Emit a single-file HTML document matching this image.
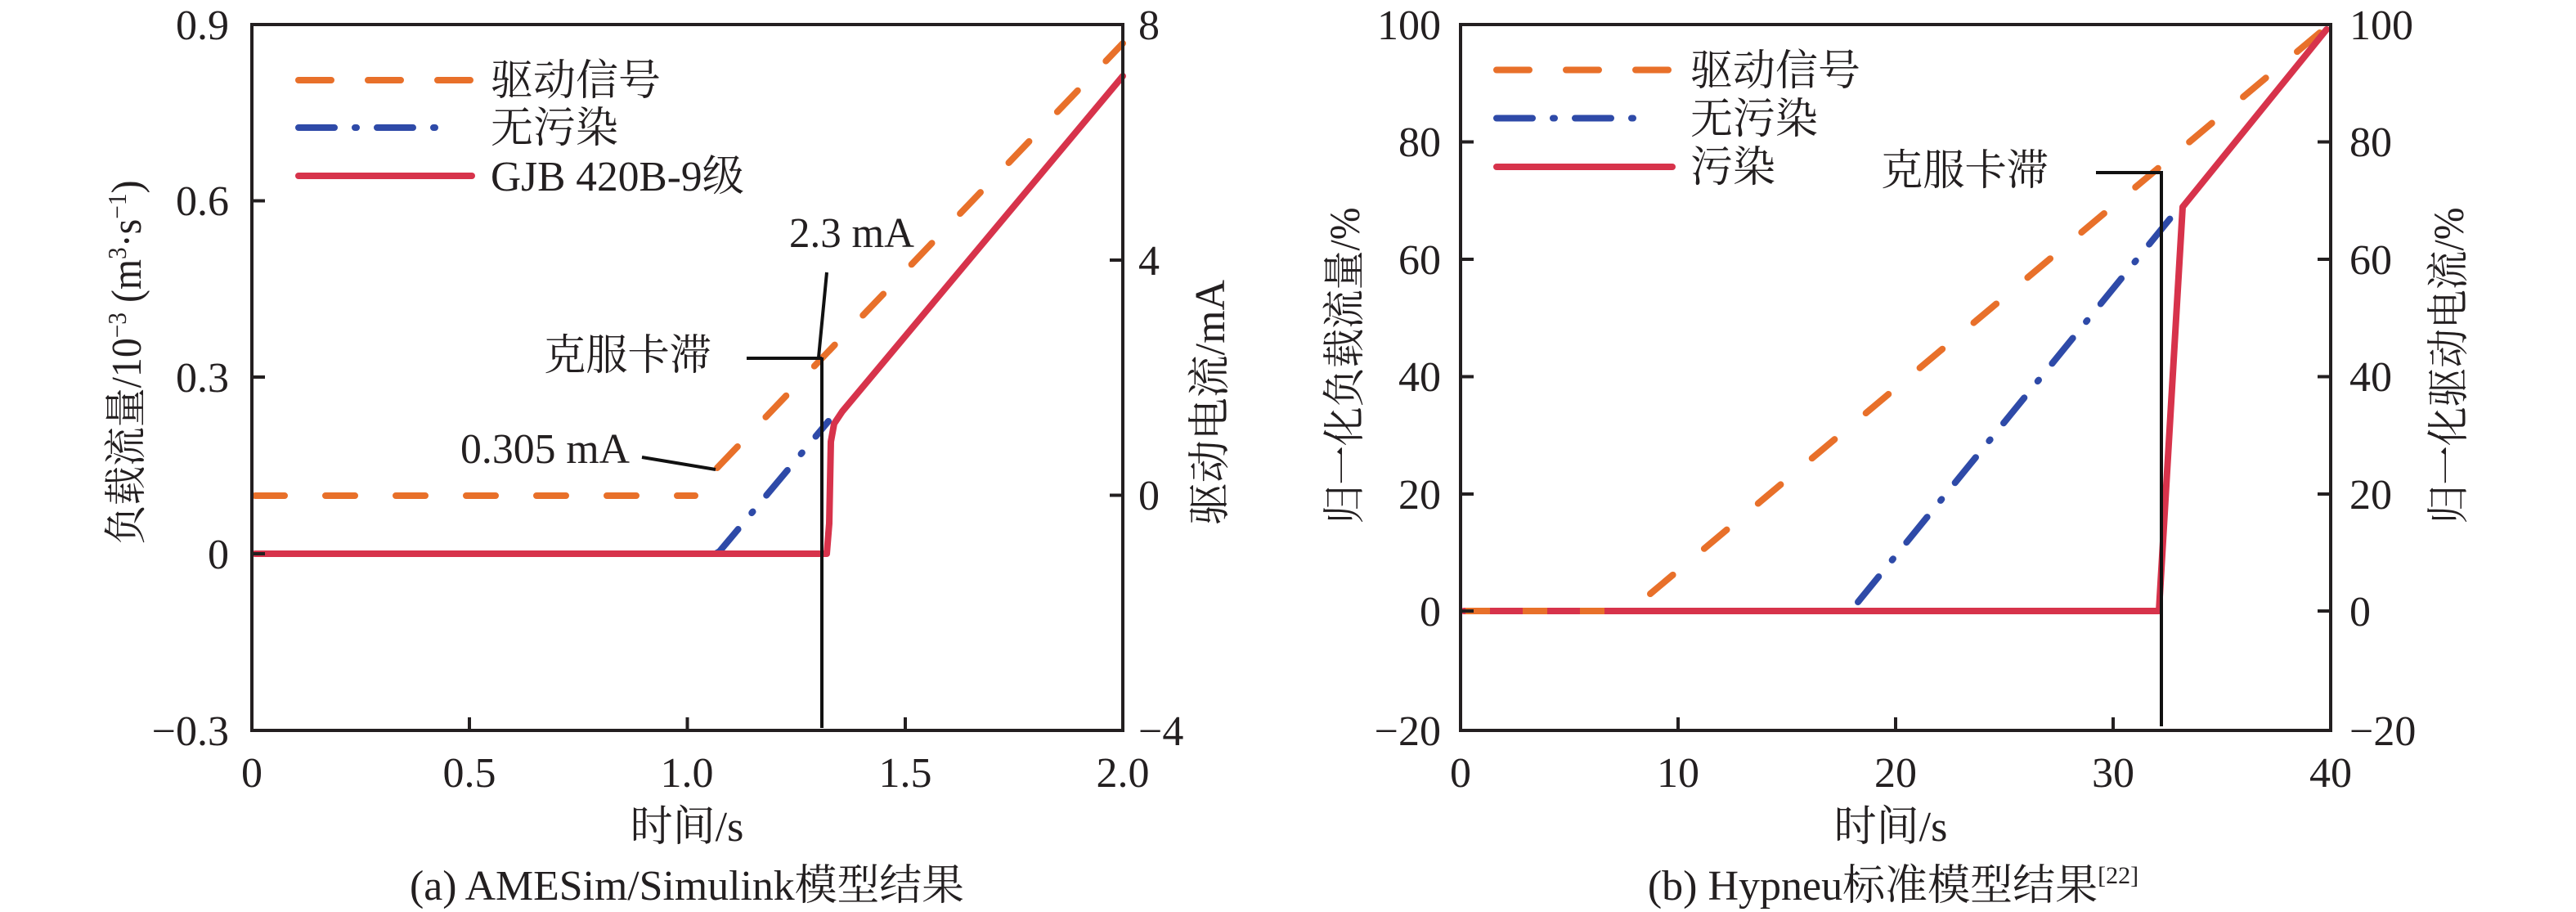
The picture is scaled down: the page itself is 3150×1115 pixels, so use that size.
<!DOCTYPE html>
<html><head><meta charset="utf-8"><style>
html,body{margin:0;padding:0;background:#fff}
svg{display:block}
text{font-family:"Liberation Serif","Noto Serif CJK SC",serif;fill:#231f20}
</style></head><body>
<svg width="3150" height="1115" viewBox="0 0 3150 1115" xmlns="http://www.w3.org/2000/svg">
<!-- ============ LEFT PLOT ============ -->
<g font-size="52">
<g fill="none" stroke-linecap="round" stroke-linejoin="round">
 <polyline points="312,606 850,606" stroke="#e8702a" stroke-width="8" stroke-dasharray="36 50"/>
 <polyline points="877,572 1373,53" stroke="#e8702a" stroke-width="8" stroke-dasharray="36 50"/>
 <polyline points="312,677 875,677 880,674 1013,515" stroke="#2e4aa8" stroke-width="8" stroke-dasharray="40 26 2 26"/>
 <polyline points="312,677 1011,677 1014,640 1016,540 1020,518 1030,503 1373,93" stroke="#d7334b" stroke-width="8"/>
</g>
<g stroke="#111" stroke-width="4" fill="none">
 <line x1="1005" y1="437" x2="1005" y2="890"/>
 <line x1="913" y1="438" x2="1005" y2="438"/>
 <line x1="1011" y1="333" x2="1001" y2="437"/>
 <line x1="785" y1="559" x2="875" y2="574"/>
</g>
<text x="965" y="302" textLength="153" lengthAdjust="spacingAndGlyphs">2.3 mA</text>
<text x="665" y="452" textLength="205" lengthAdjust="spacingAndGlyphs">克服卡滞</text>
<text x="563" y="566" textLength="207" lengthAdjust="spacingAndGlyphs">0.305 mA</text>
<rect x="308" y="30" width="1065" height="863" fill="none" stroke="#231f20" stroke-width="4"/>
<g stroke="#231f20" stroke-width="4">
 <line x1="308" y1="245.5" x2="324" y2="245.5"/>
 <line x1="308" y1="461" x2="324" y2="461"/>
 <line x1="308" y1="677" x2="324" y2="677"/>
 <line x1="574" y1="893" x2="574" y2="877"/>
 <line x1="840.5" y1="893" x2="840.5" y2="877"/>
 <line x1="1107" y1="893" x2="1107" y2="877"/>
 <line x1="1373" y1="318" x2="1357" y2="318"/>
 <line x1="1373" y1="605.5" x2="1357" y2="605.5"/>
</g>
<g text-anchor="end">
 <text x="280" y="48">0.9</text>
 <text x="280" y="263">0.6</text>
 <text x="280" y="479">0.3</text>
 <text x="280" y="695">0</text>
 <text x="280" y="911">−0.3</text>
</g>
<g>
 <text x="1392" y="48">8</text>
 <text x="1392" y="336">4</text>
 <text x="1392" y="623">0</text>
 <text x="1392" y="911">−4</text>
</g>
<g text-anchor="middle">
 <text x="308" y="962">0</text>
 <text x="574" y="962">0.5</text>
 <text x="840" y="962">1.0</text>
 <text x="1107" y="962">1.5</text>
 <text x="1373" y="962">2.0</text>
 <text x="840" y="1028">时间/s</text>
 <text x="840" y="1100" textLength="678" lengthAdjust="spacingAndGlyphs">(a) AMESim/Simulink模型结果</text>
</g>
<text transform="translate(172,443) rotate(-90)" text-anchor="middle" textLength="445" lengthAdjust="spacingAndGlyphs">负载流量/10<tspan font-size="32" dy="-18">−3</tspan><tspan dy="18"> (m</tspan><tspan font-size="32" dy="-18">3</tspan><tspan dy="18">·s</tspan><tspan font-size="32" dy="-18">−1</tspan><tspan dy="18">)</tspan></text>
<text transform="translate(1497,492) rotate(-90)" text-anchor="middle" textLength="300" lengthAdjust="spacingAndGlyphs">驱动电流/mA</text>
<g fill="none" stroke-linecap="round">
 <line x1="365" y1="98" x2="575" y2="98" stroke="#e8702a" stroke-width="8" stroke-dasharray="40 45"/>
 <line x1="365" y1="156" x2="555" y2="156" stroke="#2e4aa8" stroke-width="8" stroke-dasharray="44 25 2 25"/>
 <line x1="365" y1="215" x2="577" y2="215" stroke="#d7334b" stroke-width="8"/>
</g>
<text x="600" y="116">驱动信号</text>
<text x="600" y="174">无污染</text>
<text x="600" y="233" textLength="310" lengthAdjust="spacingAndGlyphs">GJB 420B-9级</text>
</g>

<!-- ============ RIGHT PLOT ============ -->
<g font-size="52">
<g fill="none" stroke-linecap="round" stroke-linejoin="round">
 <polyline points="2018,726 2845,33" stroke="#e8702a" stroke-width="8" stroke-dasharray="36 50"/>
 <polyline points="2272,736 2662,257" stroke="#2e4aa8" stroke-width="8" stroke-dasharray="40 26 2 26"/>
 <polyline points="1790,747 2640,747 2669,253 2845,36" stroke="#d7334b" stroke-width="8"/>
 <polyline points="1792,747 1970,747" stroke="#e8702a" stroke-width="8" stroke-dasharray="30 40" stroke-linecap="butt"/>
</g>
<g stroke="#111" stroke-width="4" fill="none">
 <line x1="2643" y1="209" x2="2643" y2="888"/>
 <line x1="2563" y1="211" x2="2643" y2="211"/>
</g>
<text x="2300" y="226" textLength="205" lengthAdjust="spacingAndGlyphs">克服卡滞</text>
<rect x="1786" y="30" width="1064" height="863" fill="none" stroke="#231f20" stroke-width="4"/>
<g stroke="#231f20" stroke-width="4">
 <line x1="1786" y1="173.5" x2="1802" y2="173.5"/>
 <line x1="1786" y1="317" x2="1802" y2="317"/>
 <line x1="1786" y1="460.5" x2="1802" y2="460.5"/>
 <line x1="1786" y1="604" x2="1802" y2="604"/>
 <line x1="1786" y1="747" x2="1802" y2="747"/>
 <line x1="2052" y1="893" x2="2052" y2="877"/>
 <line x1="2318" y1="893" x2="2318" y2="877"/>
 <line x1="2584" y1="893" x2="2584" y2="877"/>
 <line x1="2850" y1="173.5" x2="2834" y2="173.5"/>
 <line x1="2850" y1="317" x2="2834" y2="317"/>
 <line x1="2850" y1="460.5" x2="2834" y2="460.5"/>
 <line x1="2850" y1="604" x2="2834" y2="604"/>
 <line x1="2850" y1="747" x2="2834" y2="747"/>
</g>
<g text-anchor="end">
 <text x="1762" y="48">100</text>
 <text x="1762" y="191">80</text>
 <text x="1762" y="335">60</text>
 <text x="1762" y="478">40</text>
 <text x="1762" y="622">20</text>
 <text x="1762" y="765">0</text>
 <text x="1762" y="911">−20</text>
</g>
<g>
 <text x="2873" y="48">100</text>
 <text x="2873" y="191">80</text>
 <text x="2873" y="335">60</text>
 <text x="2873" y="478">40</text>
 <text x="2873" y="622">20</text>
 <text x="2873" y="765">0</text>
 <text x="2873" y="911">−20</text>
</g>
<g text-anchor="middle">
 <text x="1786" y="962">0</text>
 <text x="2052" y="962">10</text>
 <text x="2318" y="962">20</text>
 <text x="2584" y="962">30</text>
 <text x="2850" y="962">40</text>
 <text x="2312" y="1028">时间/s</text>
 <text x="2315" y="1100">(b) Hypneu标准模型结果<tspan font-size="30" dy="-20">[22]</tspan></text>
</g>
<text transform="translate(1662,447) rotate(-90)" text-anchor="middle" textLength="387" lengthAdjust="spacingAndGlyphs">归一化负载流量/%</text>
<text transform="translate(3012,447) rotate(-90)" text-anchor="middle" textLength="387" lengthAdjust="spacingAndGlyphs">归一化驱动电流/%</text>
<g fill="none" stroke-linecap="round">
 <line x1="1830" y1="85.5" x2="2045" y2="85.5" stroke="#e8702a" stroke-width="8" stroke-dasharray="40 45"/>
 <line x1="1830" y1="144.5" x2="2020" y2="144.5" stroke="#2e4aa8" stroke-width="8" stroke-dasharray="44 25 2 25"/>
 <line x1="1830" y1="204" x2="2045" y2="204" stroke="#d7334b" stroke-width="8"/>
</g>
<text x="2067" y="104">驱动信号</text>
<text x="2067" y="163">无污染</text>
<text x="2067" y="222">污染</text>
</g>
</svg>
</body></html>
